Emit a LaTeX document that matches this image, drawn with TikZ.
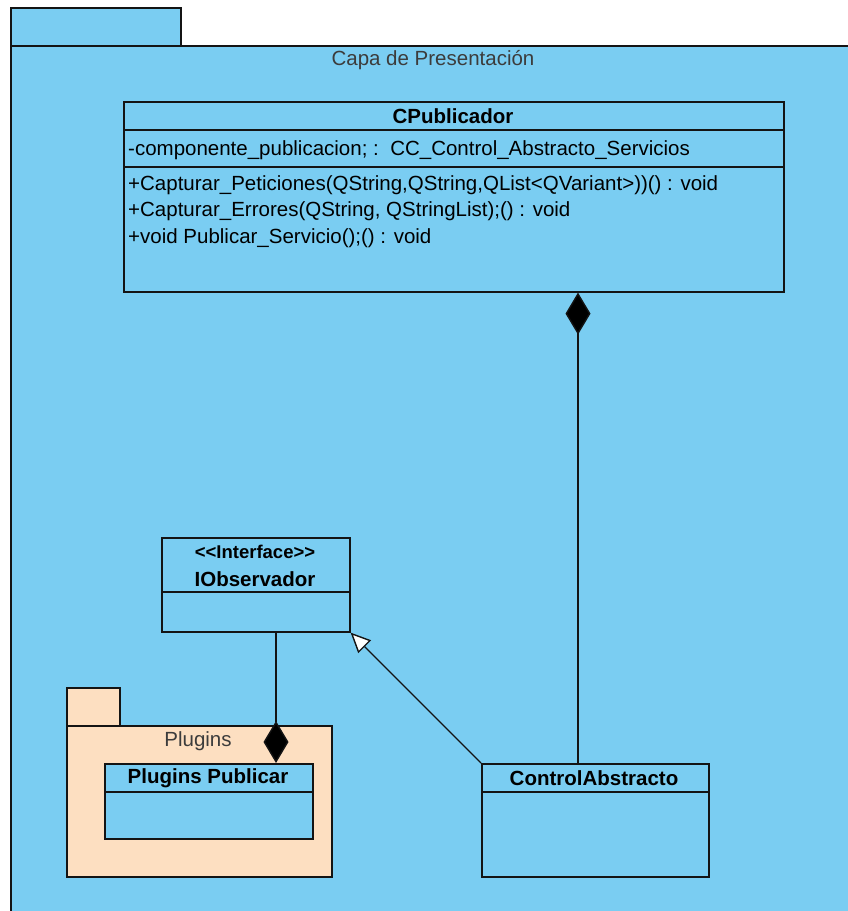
\documentclass[tikz,border=0pt]{standalone}
\usepackage{fontspec}
\setmainfont{Liberation Sans}
\usetikzlibrary{arrows.meta}
\definecolor{pkgblue}{RGB}{122,205,242}
\definecolor{pkgpeach}{RGB}{253,223,193}
\definecolor{edge}{RGB}{20,20,20}
\definecolor{pkgtext}{RGB}{60,60,60}
\tikzset{
  box/.style={draw=edge, line width=1.6pt, fill=pkgblue, inner sep=0pt, anchor=north west},
  pkgtab/.style={draw=edge, line width=1.6pt, inner sep=0pt, anchor=north west},
  divider/.style={draw=edge, line width=1.6pt},
  title/.style={font=\fontsize{20.5}{24}\selectfont\bfseries, inner sep=0pt},
  member/.style={font=\fontsize{20.5}{24}\selectfont, inner sep=0pt, anchor=west},
  pkgname/.style={font=\fontsize{20.5}{24}\selectfont, text=pkgtext, inner sep=0pt},
  compo/.style={draw=edge, line width=1.4pt, {Diamond[length=42pt,width=25pt,fill=black]}-},
  realize/.style={draw=edge, line width=1.4pt, -{Triangle[open,length=20pt,width=18pt,fill=white]}},
}
\begin{document}
\begin{tikzpicture}[x=1pt,y=-1pt]
\useasboundingbox (0,0) rectangle (848,911);

% outer package
\node[pkgtab, fill=pkgblue, minimum width=170pt, minimum height=38pt] (captab) at (10,7) {};
\node[pkgtab, fill=pkgblue, minimum width=860pt, minimum height=880pt] (capa) at (10,45) {};
\node[pkgname] (capaname) at (433,60) {Capa de Presentación};

% CPublicador class
\node[box, minimum width=660pt, minimum height=190pt] (cpub) at (123,101) {};
\draw[divider] (123,130) -- (783,130);
\draw[divider] (123,167) -- (783,167);
\node[title] (cpubname) at (453,116) {CPublicador};
\node[member] (attr) at (128,150) {-componente\_publicacion; :\ \ CC\_Control\_Abstracto\_Servicios};
\node[member] (op1) at (128,185) {+Capturar\_Peticiones(QString,QString,QList{<}QVariant{>}))() : void};
\node[member] (op2) at (128,211) {+Capturar\_Errores(QString, QStringList);() : void};
\node[member] (op3) at (128,238) {+void Publicar\_Servicio();() : void};

% IObservador interface
\node[box, minimum width=188pt, minimum height=94pt] (iobs) at (161,537) {};
\draw[divider] (161,592) -- (349,592);
\node[title, font=\fontsize{18.5}{22}\selectfont\bfseries] (iobsst) at (255,552) {{<}{<}Interface{>}{>}};
\node[title] (iobsname) at (255,579) {IObservador};

% Plugins package
\node[pkgtab, fill=pkgpeach, minimum width=53pt, minimum height=38pt] (plugtab) at (66,687) {};
\node[pkgtab, fill=pkgpeach, minimum width=265pt, minimum height=151pt] (plug) at (66,725) {};
\node[pkgname] (plugname) at (198,741) {Plugins};

% Plugins Publicar class
\node[box, minimum width=208pt, minimum height=75pt] (ppub) at (104,763) {};
\draw[divider] (104,792) -- (312,792);
\node[title] (ppubname) at (208,778) {Plugins Publicar};

% ControlAbstracto class
\node[box, minimum width=227pt, minimum height=113pt] (ctrl) at (481,763) {};
\draw[divider] (481,792) -- (708,792);
\node[title] (ctrlname) at (594,778) {ControlAbstracto};

% connectors
\coordinate (ctrltop) at (578,763);
\coordinate (ppubtop) at (276,763);
\coordinate (iobsbot) at (276,631);
\draw[compo] (cpub.south -| ctrltop) -- (ctrltop);
\draw[compo] (ppubtop) -- (iobsbot);
\draw[realize] (ctrl.north west) -- (iobs.south east);
\end{tikzpicture}
\end{document}
